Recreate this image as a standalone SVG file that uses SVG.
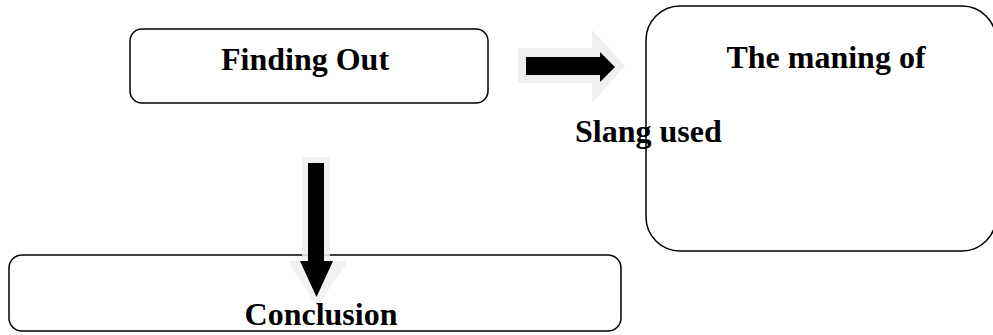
<svg xmlns="http://www.w3.org/2000/svg" width="993" height="335" viewBox="0 0 993 335">
<style>
.box{fill:#fff;stroke:#000;stroke-width:1.5}
.t{font-family:"Liberation Serif","Times New Roman",serif;font-weight:bold;font-size:32px;fill:#000}
.halo{fill:#efefef}
.arr{fill:#000}
</style>
<rect width="993" height="335" fill="#fff"/>
<g id="finding-out">
<rect class="box" x="130" y="29" width="358" height="74" rx="12"/>
<text class="t" x="305" y="70" text-anchor="middle">Finding Out</text>
</g>
<g id="meaning">
<rect class="box" x="646" y="6" width="350" height="245" rx="34"/>
<text class="t" x="826" y="68" text-anchor="middle">The maning of</text>
</g>
<g id="conclusion">
<rect class="box" x="9" y="255" width="612" height="76" rx="13"/>
</g>
<g id="connectors">
<path class="halo" d="M518,48 H592 V30 L625,66 L592,103 V83 H518 Z"/>
<path class="arr" d="M526,57 H600 V52 L615,67 L600,82 V75 H526 Z"/>
<path class="halo" opacity="0.85" d="M302,157 H330 V261 H348 L317,307 L288,261 H302 Z"/>
<path class="arr" d="M308,163 H324 V261 H333 L316.5,297 L300,261 H308 Z"/>
</g>
<text class="t" x="575" y="142">Slang used</text>
<text class="t" x="321" y="325" text-anchor="middle">Conclusion</text>
</svg>
